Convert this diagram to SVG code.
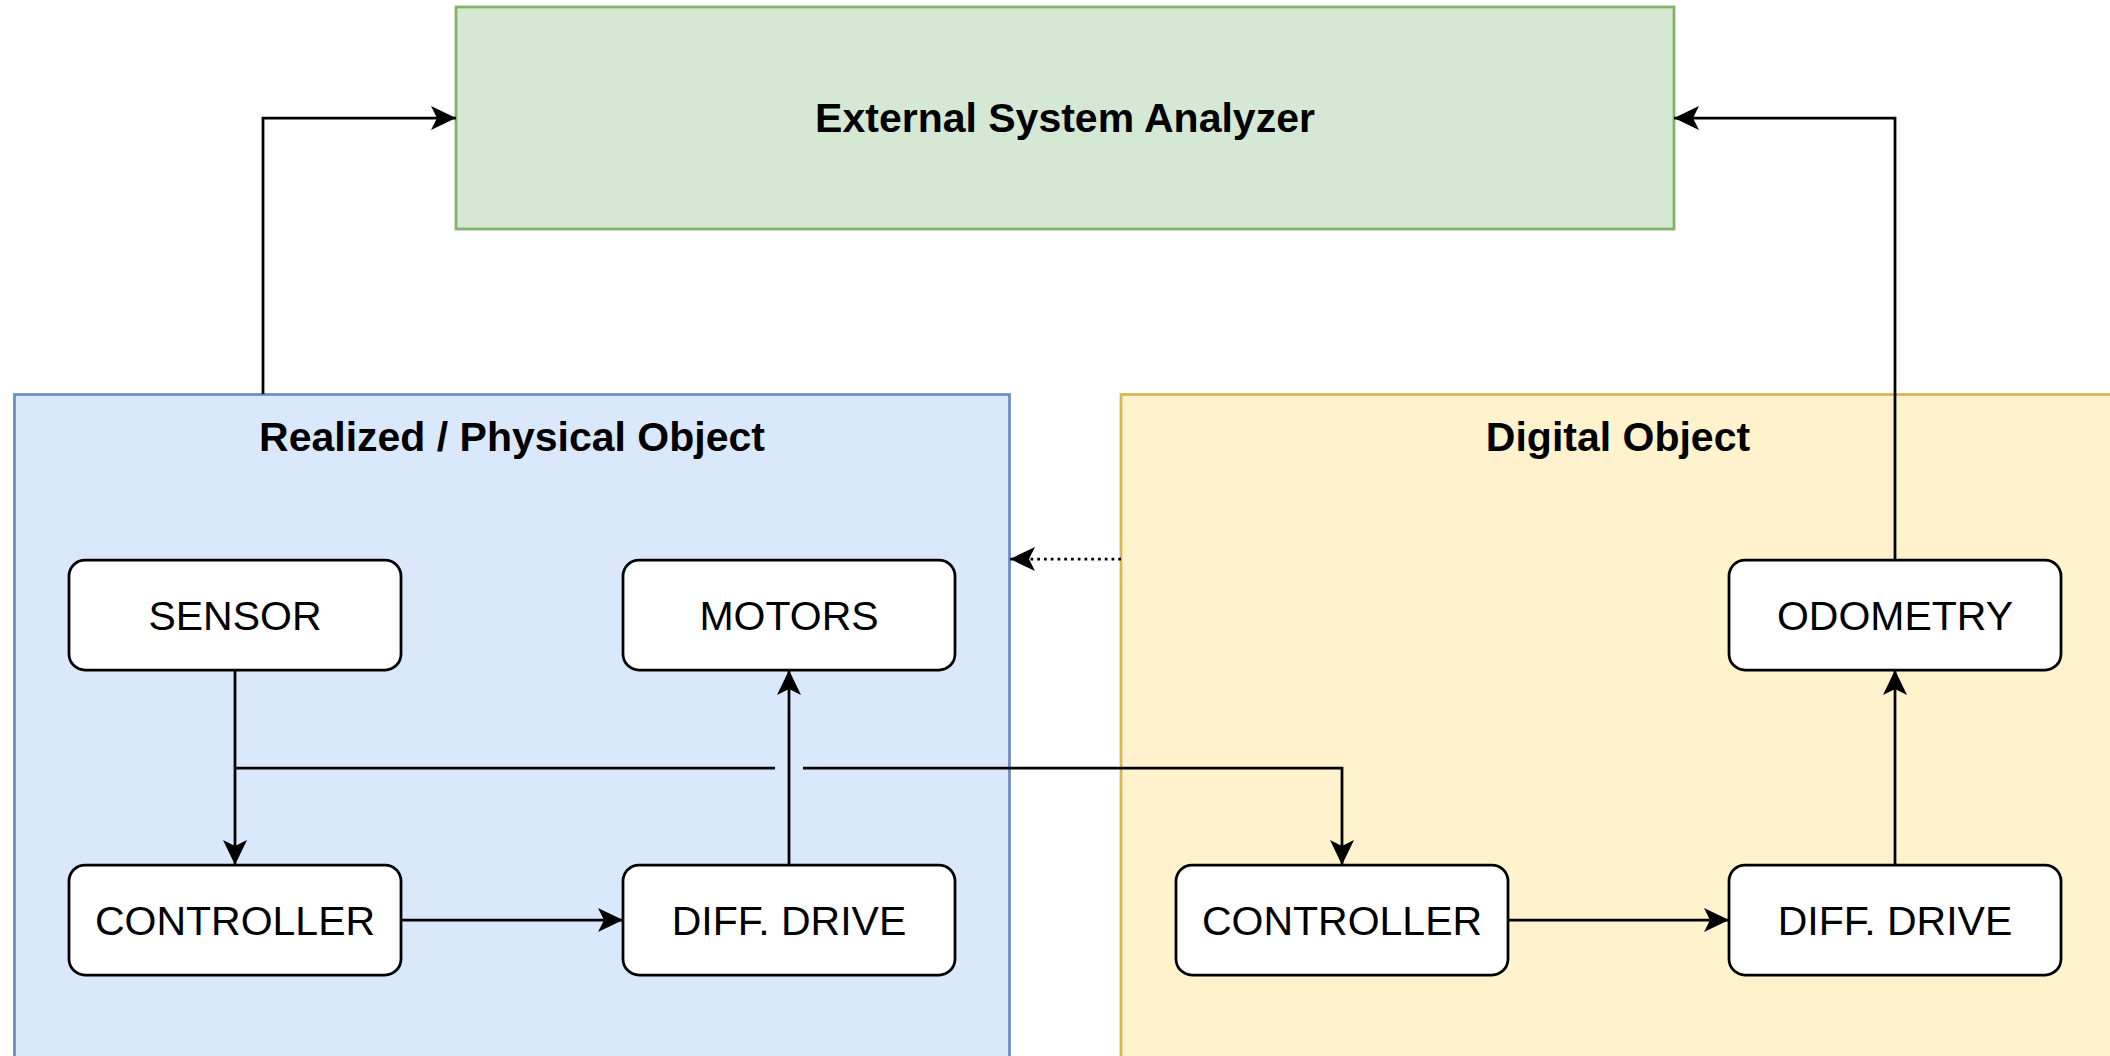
<svg xmlns="http://www.w3.org/2000/svg" width="2110" height="1056" viewBox="0 0 2110 1056">
  <style>
    .title { font-family: "Liberation Sans", Arial, sans-serif; font-size: 41px; font-weight: bold; fill: #000; text-anchor: middle; }
    .label { font-family: "Liberation Sans", Arial, sans-serif; font-size: 41px; fill: #000; text-anchor: middle; }
    .box { fill: #ffffff; stroke: #000; stroke-width: 2.75; }
    .edge { fill: none; stroke: #000; stroke-width: 2.75; }
    .dotted { stroke-dasharray: 2.75 4; }
  </style>
  <defs>
    <marker id="arrow" markerUnits="userSpaceOnUse" viewBox="0 0 25 24" refX="25" refY="12" markerWidth="25" markerHeight="24" orient="auto">
      <path d="M0,0 L25,12 L0,24 L6,12 Z" fill="#000"/>
    </marker>
  </defs>
  <rect width="2110" height="1056" fill="#ffffff"/>

  <!-- containers -->
  <g id="external-system-analyzer">
    <rect x="456" y="7" width="1218" height="222" fill="#d5e8d4" stroke="#82b366" stroke-width="2.75"/>
    <text class="title" x="1065" y="132">External System Analyzer</text>
  </g>
  <g id="physical-object">
    <rect x="14.5" y="394.5" width="995" height="700" fill="#dae8fc" stroke="#6c8ebf" stroke-width="2.75"/>
    <text class="title" x="512" y="451">Realized / Physical Object</text>
  </g>
  <g id="digital-object">
    <rect x="1121" y="394.5" width="1040" height="700" fill="#fff2cc" stroke="#d6b656" stroke-width="2.75"/>
    <text class="title" x="1618" y="451">Digital Object</text>
  </g>

  <!-- connectors -->
  <g id="connectors">
    <path class="edge" d="M263,394 V118 H456" marker-end="url(#arrow)"/>
    <path class="edge" d="M1895,560 V118 H1674" marker-end="url(#arrow)"/>
    <path class="edge dotted" d="M1121,559 H1010" marker-end="url(#arrow)"/>
    <path class="edge" d="M235,670 V865" marker-end="url(#arrow)"/>
    <path class="edge" d="M235,768 H775 M803,768 H1342 V865" marker-end="url(#arrow)"/>
    <path class="edge" d="M401,920 H623" marker-end="url(#arrow)"/>
    <path class="edge" d="M789,865 V670" marker-end="url(#arrow)"/>
    <path class="edge" d="M1508,920 H1729" marker-end="url(#arrow)"/>
    <path class="edge" d="M1895,865 V670" marker-end="url(#arrow)"/>
  </g>

  <!-- nodes -->
  <g id="sensor">
    <rect class="box" x="69" y="560" width="332" height="110" rx="16"/>
    <text class="label" x="235" y="630">SENSOR</text>
  </g>
  <g id="motors">
    <rect class="box" x="623" y="560" width="332" height="110" rx="16"/>
    <text class="label" x="789" y="630">MOTORS</text>
  </g>
  <g id="controller-physical">
    <rect class="box" x="69" y="865" width="332" height="110" rx="16"/>
    <text class="label" x="235" y="935">CONTROLLER</text>
  </g>
  <g id="diff-drive-physical">
    <rect class="box" x="623" y="865" width="332" height="110" rx="16"/>
    <text class="label" x="789" y="935">DIFF. DRIVE</text>
  </g>
  <g id="controller-digital">
    <rect class="box" x="1176" y="865" width="332" height="110" rx="16"/>
    <text class="label" x="1342" y="935">CONTROLLER</text>
  </g>
  <g id="diff-drive-digital">
    <rect class="box" x="1729" y="865" width="332" height="110" rx="16"/>
    <text class="label" x="1895" y="935">DIFF. DRIVE</text>
  </g>
  <g id="odometry">
    <rect class="box" x="1729" y="560" width="332" height="110" rx="16"/>
    <text class="label" x="1895" y="630">ODOMETRY</text>
  </g>
</svg>
